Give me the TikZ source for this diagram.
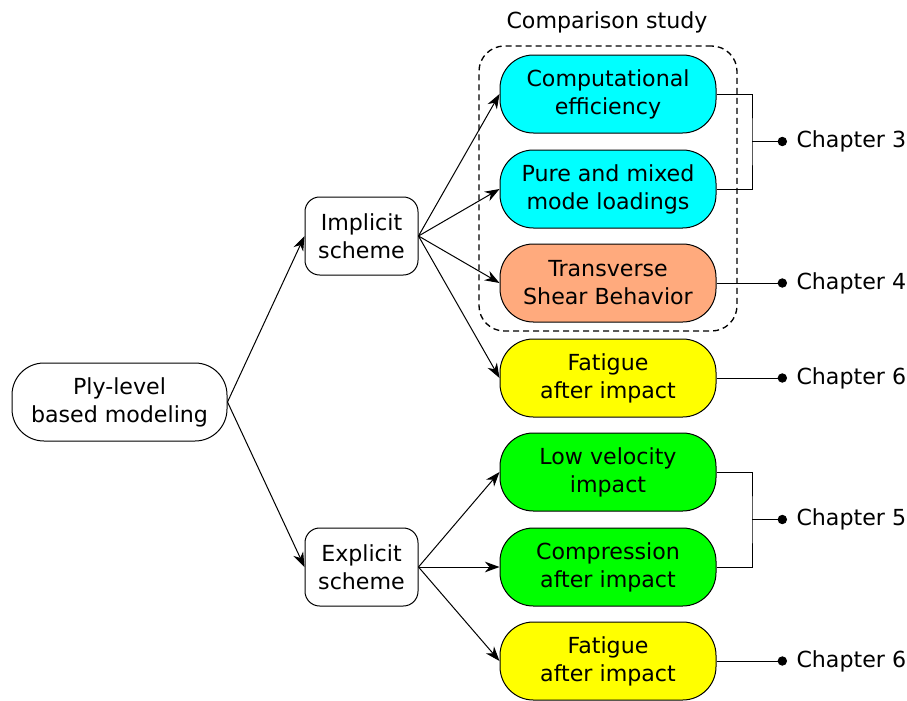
\documentclass[tikz,border=0pt]{standalone}
\usepackage{fontspec}
\setmainfont{DejaVu Sans}
\usetikzlibrary{arrows.meta}
\definecolor{effcyan}{RGB}{0,255,255}
\definecolor{shearorange}{RGB}{255,170,125}
\definecolor{fatyellow}{RGB}{255,255,0}
\definecolor{impgreen}{RGB}{0,255,0}

\tikzset{every picture/.style={line width=0.75pt}}
\tikzset{
  topic/.style={draw, fill=#1, rounded corners=25pt, minimum width=162pt, minimum height=58.5pt, align=center, inner sep=0pt},
  scheme/.style={draw, fill=white, rounded corners=11pt, minimum width=84.75pt, minimum height=58.5pt, align=center, inner sep=0pt},
  chap/.style={anchor=west, inner sep=6.75pt},
  arr/.style={-{Stealth[length=11pt,width=8pt,inset=3.5pt]}},
  dot/.style={-{Circle[length=7pt]}}
}

\begin{document}
\begin{tikzpicture}[x=0.75pt,y=0.75pt,yscale=-1,xscale=1,font=\fontsize{16.6pt}{21pt}\selectfont]
				\useasboundingbox (0,0) rectangle (907,700);
				%Dashed frame [id:study]
				\node [draw, line width=1pt, dash pattern={on 4.5pt off 3pt}, rounded corners=19pt, minimum width=193.5pt, minimum height=213.75pt, inner sep=0pt] (study) at (608,188.5) {};
				% Text Node
				\node (studytitle) at (607,22) {Comparison study};
				% Text Node
				\node [scheme, rounded corners=24pt, minimum width=161.25pt] (ply) at (119.5,402) {Ply-level\\based modeling};
				% Text Node
				\node [scheme] (impl) at (361.5,236) {Implicit\\scheme};
				% Text Node
				\node [scheme] (expl) at (361.5,567) {Explicit\\scheme};
				% Text Node
				\node [topic=effcyan] (cmp) at (608,94) {Computational\\efficiency};
				% Text Node
				\node [topic=effcyan] (mix) at (608,189) {Pure and mixed\\mode loadings};
				% Text Node
				\node [topic=shearorange] (shear) at (608,283) {Transverse\\Shear Behavior};
				% Text Node
				\node [topic=fatyellow] (fatone) at (608,378) {Fatigue\\after impact};
				% Text Node
				\node [topic=impgreen] (lvi) at (608,472) {Low velocity\\impact};
				% Text Node
				\node [topic=impgreen] (cai) at (608,567) {Compression\\after impact};
				% Text Node
				\node [topic=fatyellow] (fattwo) at (608,661) {Fatigue\\after impact};
				% Text Node
				\node [chap] (chthree) at (787,141.5) {Chapter 3};
				% Text Node
				\node [chap] (chfour) at (787,283) {Chapter 4};
				% Text Node
				\node [chap] (chsixa) at (787,378) {Chapter 6};
				% Text Node
				\node [chap] (chfive) at (787,519.5) {Chapter 5};
				% Text Node
				\node [chap] (chsixb) at (787,661) {Chapter 6};

				%Straight Lines [id:arrows]
				\draw [arr] (ply.east) -- (impl.west) ;
				\draw [arr] (ply.east) -- (expl.west) ;
				\draw [arr] (impl.east) -- (cmp.west) ;
				\draw [arr] (impl.east) -- (mix.west) ;
				\draw [arr] (impl.east) -- (shear.west) ;
				\draw [arr] (impl.east) -- (fatone.west) ;
				\draw [arr] (expl.east) -- (lvi.west) ;
				\draw [arr] (expl.east) -- (cai.west) ;
				\draw [arr] (expl.east) -- (fattwo.west) ;
				%Brackets [id:brackets]
				\coordinate (jthree) at (752,141.5) ;
				\coordinate (jfive) at (752,519.5) ;
				\draw (cmp.east) -| (jthree) |- (mix.east) ;
				\draw (lvi.east) -| (jfive) |- (cai.east) ;
				%Straight Lines [id:chapters]
				\draw [dot] (jthree) -- (chthree.west) ;
				\draw [dot] (shear.east) -- (chfour.west) ;
				\draw [dot] (fatone.east) -- (chsixa.west) ;
				\draw [dot] (jfive) -- (chfive.west) ;
				\draw [dot] (fattwo.east) -- (chsixb.west) ;
\end{tikzpicture}
\end{document}
